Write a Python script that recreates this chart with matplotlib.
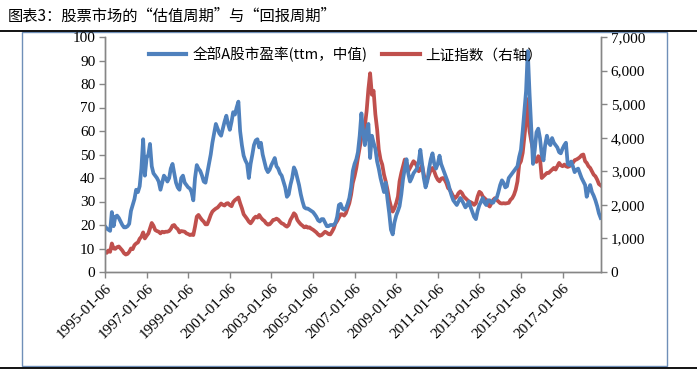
import matplotlib
matplotlib.use("Agg")
import matplotlib.pyplot as plt
import matplotlib.ticker as mticker
from matplotlib.lines import Line2D
from matplotlib.patches import Rectangle
import pandas as pd

plt.rcParams["font.family"] = ["Noto Sans CJK SC", "DejaVu Sans"]

TITLE = "图表3：股票市场的“估值周期”与“回报周期”"
PE_LABEL = "全部A股市盈率(ttm，中值)"
SH_LABEL = "上证指数（右轴）"

# 月度数据：1995-01 至 2018-11
pe_values = [
    19.5, 18.5, 18.0, 17.5, 25.5, 19.5, 23.5, 24.0, 23.0, 21.5, 20.0, 19.0,   # 1995
    19.0, 19.5, 20.5, 26.0, 28.5, 31.0, 35.0, 34.0, 36.5, 44.0, 56.5, 41.0,   # 1996
    48.5, 50.0, 54.5, 45.0, 42.0, 41.0, 40.0, 38.5, 35.0, 38.0, 41.0, 40.0,   # 1997
    38.5, 40.0, 44.0, 46.0, 42.0, 38.0, 36.0, 35.0, 40.0, 41.0, 38.0, 37.0,   # 1998
    36.0, 35.5, 34.0, 30.5, 40.0, 45.5, 44.0, 43.0, 41.0, 38.5, 38.0, 42.0,   # 1999
    46.0, 50.0, 55.0, 59.0, 63.0, 61.0, 59.0, 58.0, 61.0, 64.0, 66.5, 63.0,   # 2000
    60.5, 64.0, 68.0, 67.0, 70.0, 72.5, 60.0, 54.0, 49.5, 47.5, 46.0, 40.0,   # 2001
    46.0, 50.0, 54.0, 56.0, 56.5, 53.0, 55.0, 50.0, 47.0, 44.0, 42.5, 43.5,   # 2002
    45.5, 47.0, 48.5, 45.0, 44.0, 42.0, 41.0, 38.5, 36.0, 32.0, 33.0, 37.0,   # 2003
    40.0, 44.5, 43.0, 40.0, 37.0, 33.0, 30.0, 27.5, 27.0, 27.0, 26.5, 26.0,   # 2004
    25.5, 24.5, 23.5, 22.0, 21.5, 22.5, 22.5, 21.0, 19.5, 19.5, 20.0, 20.0,   # 2005
    20.0, 21.0, 23.5, 28.5, 29.0, 27.0, 26.5, 27.0, 29.0, 31.5, 36.0, 43.0,   # 2006
    46.0, 48.0, 51.0, 58.0, 67.5, 59.5, 54.0, 60.0, 63.0, 48.5, 58.0, 55.0,   # 2007
    52.5, 47.0, 44.0, 40.0, 37.0, 34.0, 38.0, 31.0, 25.0, 18.0, 16.0, 21.0,   # 2008
    24.0, 26.0, 28.0, 33.0, 39.5, 44.0, 48.0, 42.0, 38.5, 40.0, 42.0, 43.0,   # 2009
    44.0, 47.0, 52.0, 46.0, 40.0, 36.0, 38.5, 44.0, 48.0, 50.5, 46.0, 44.0,   # 2010
    46.0, 49.5, 46.0, 44.0, 42.0, 40.0, 38.0, 35.0, 32.5, 30.5, 29.5, 28.5,   # 2011
    30.0, 31.5, 30.5, 29.0, 27.5, 28.5, 30.0, 27.5, 25.5, 23.5, 22.5, 26.0,   # 2012
    28.5, 30.0, 31.5, 29.5, 28.5, 30.5, 30.5, 29.5, 29.5, 31.0, 31.5, 34.0,   # 2013
    37.0, 39.0, 38.0, 36.0, 36.5, 40.0, 41.0, 42.0, 43.0, 44.0, 45.0, 49.0,   # 2014
    52.0, 60.0, 68.0, 77.0, 94.0, 76.0, 61.0, 46.0, 52.0, 59.5, 61.0, 57.0,   # 2015
    50.0, 47.5, 54.0, 58.0, 55.0, 54.0, 57.0, 55.0, 54.0, 53.0, 51.0, 50.5,   # 2016
    52.5, 54.0, 55.0, 46.0, 45.5, 47.0, 45.0, 42.5, 43.5, 44.0, 42.0, 40.0,   # 2017
    38.5, 37.0, 32.0, 35.0, 37.0, 34.0, 32.5, 30.5, 28.0, 25.0, 23.0,         # 2018
]

sh_values = [
    620, 570, 640, 600, 850, 700, 690, 740, 760, 700, 640, 560,               # 1995
    520, 540, 600, 700, 680, 800, 850, 880, 990, 1050, 1180, 1000,            # 1996
    1080, 1150, 1300, 1460, 1380, 1250, 1220, 1200, 1150, 1200, 1180, 1200,   # 1997
    1200, 1220, 1280, 1380, 1400, 1320, 1280, 1180, 1220, 1210, 1200, 1150,   # 1998
    1130, 1100, 1120, 1100, 1350, 1650, 1700, 1620, 1550, 1500, 1420, 1420,   # 1999
    1550, 1700, 1800, 1850, 1890, 1920, 1980, 2040, 2000, 1980, 2040, 2050,   # 2000
    1990, 1960, 2080, 2140, 2180, 2220, 2050, 1900, 1720, 1650, 1580, 1500,   # 2001
    1450, 1520, 1600, 1650, 1620, 1700, 1620, 1560, 1520, 1450, 1410, 1420,   # 2002
    1480, 1550, 1560, 1590, 1560, 1500, 1450, 1430, 1380, 1350, 1400, 1550,   # 2003
    1640, 1750, 1700, 1550, 1480, 1420, 1380, 1330, 1360, 1320, 1330, 1290,   # 2004
    1260, 1220, 1180, 1120, 1080, 1100, 1150, 1200, 1170, 1130, 1120, 1200,   # 2005
    1300, 1450, 1520, 1620, 1720, 1720, 1680, 1750, 1900, 2050, 2300, 2650,   # 2006
    2850, 3100, 3400, 3700, 4000, 4150, 4350, 4800, 5450, 5920, 5280, 5400,   # 2007
    4700, 4250, 3650, 3350, 3200, 2900, 2700, 2450, 2150, 1950, 1800, 1900,   # 2008
    2050, 2250, 2700, 2950, 3150, 3350, 3250, 3000, 3100, 3200, 3300, 3250,   # 2009
    3150, 3000, 3050, 3180, 2900, 2700, 2750, 2900, 3050, 3100, 2990, 2850,   # 2010
    2750, 2700, 2780, 2800, 2750, 2650, 2500, 2450, 2350, 2250, 2200, 2250,   # 2011
    2350, 2400, 2350, 2250, 2200, 2150, 2100, 2080, 2050, 2000, 2050, 2250,   # 2012
    2390, 2350, 2250, 2200, 2150, 2000, 1950, 2050, 2150, 2200, 2150, 2100,   # 2013
    2050, 2040, 2050, 2040, 2050, 2060, 2150, 2200, 2300, 2450, 2700, 3200,   # 2014
    3300, 3550, 4000, 4500, 5150, 4200, 3900, 3650, 3300, 3280, 3450, 3400,   # 2015
    2800, 2850, 2900, 2950, 2950, 3000, 3050, 3100, 3050, 3150, 3250, 3180,   # 2016
    3150, 3200, 3150, 3130, 3150, 3200, 3250, 3330, 3350, 3380, 3420, 3480,   # 2017
    3500, 3300, 3250, 3150, 3100, 3000, 2900, 2850, 2750, 2620, 2580,         # 2018
]

tick_labels = ["1995-01-06", "1997-01-06", "1999-01-06", "2001-01-06",
               "2003-01-06", "2005-01-06", "2007-01-06", "2009-01-06",
               "2011-01-06", "2013-01-06", "2015-01-06", "2017-01-06"]

dates = pd.date_range("1995-01-01", periods=len(pe_values), freq="MS") + pd.Timedelta(days=5)

BLUE = "#4F81BD"
RED = "#C0504D"
AXIS = "#868686"

fig = plt.figure(figsize=(6.97, 3.73), dpi=100)
ax = fig.add_axes([105 / 697, 1 - 272 / 373, 496 / 697, 235 / 373])
ax2 = ax.twinx()

ax.plot(dates, pe_values, color=BLUE, lw=2.7, solid_joinstyle="round")
ax2.plot(dates, sh_values, color=RED, lw=2.7, solid_joinstyle="round")
ax.set_zorder(ax2.get_zorder() + 1)
ax.patch.set_visible(False)

ax.set_xlim(pd.Timestamp("1995-01-06"), pd.Timestamp("2018-11-12"))
ax.set_ylim(0, 100)
ax2.set_ylim(0, 7000)
ax.set_yticks(range(0, 101, 10))
ax2.set_yticks(range(0, 7001, 1000))
ax2.yaxis.set_major_formatter(mticker.FuncFormatter(lambda v, p: f"{int(v):,}"))

ax.set_xticks([pd.Timestamp(s) for s in tick_labels])
ax.set_xticklabels(tick_labels, rotation=45, ha="right", va="top",
                   rotation_mode="anchor")

for a in (ax, ax2):
    a.spines["top"].set_visible(False)
    for s in ("left", "right", "bottom"):
        a.spines[s].set_color(AXIS)
        a.spines[s].set_linewidth(1.0)
    a.tick_params(colors=AXIS, labelcolor="black", length=4, width=1.0,
                  direction="out", pad=3)
    for lab in a.get_xticklabels() + a.get_yticklabels():
        lab.set_fontfamily("Liberation Serif")
        lab.set_fontsize(11)

handles = [Line2D([], [], color=BLUE, lw=3), Line2D([], [], color=RED, lw=3)]
ax.legend(handles, [PE_LABEL, SH_LABEL], loc="center", bbox_to_anchor=(0.485, 0.925),
          ncol=2, frameon=False, fontsize=10.5, handlelength=2.6,
          handletextpad=0.4, columnspacing=1.0)

fig.text(8 / 697, 1 - 16 / 373, TITLE, fontsize=11, va="center", ha="left")
fig.add_artist(Line2D([0, 1], [1 - 31 / 373, 1 - 31 / 373], color="black", lw=1.3,
                      transform=fig.transFigure))
fig.add_artist(Line2D([0, 1], [1 - 368 / 373, 1 - 368 / 373], color="black", lw=1.3,
                      transform=fig.transFigure))
fig.add_artist(Rectangle((22 / 697, 1 - 366 / 373), 645 / 697, 334 / 373,
                         transform=fig.transFigure, fill=False,
                         edgecolor="#6F8FB8", lw=1.0))

fig.savefig("out.png", dpi=100)
